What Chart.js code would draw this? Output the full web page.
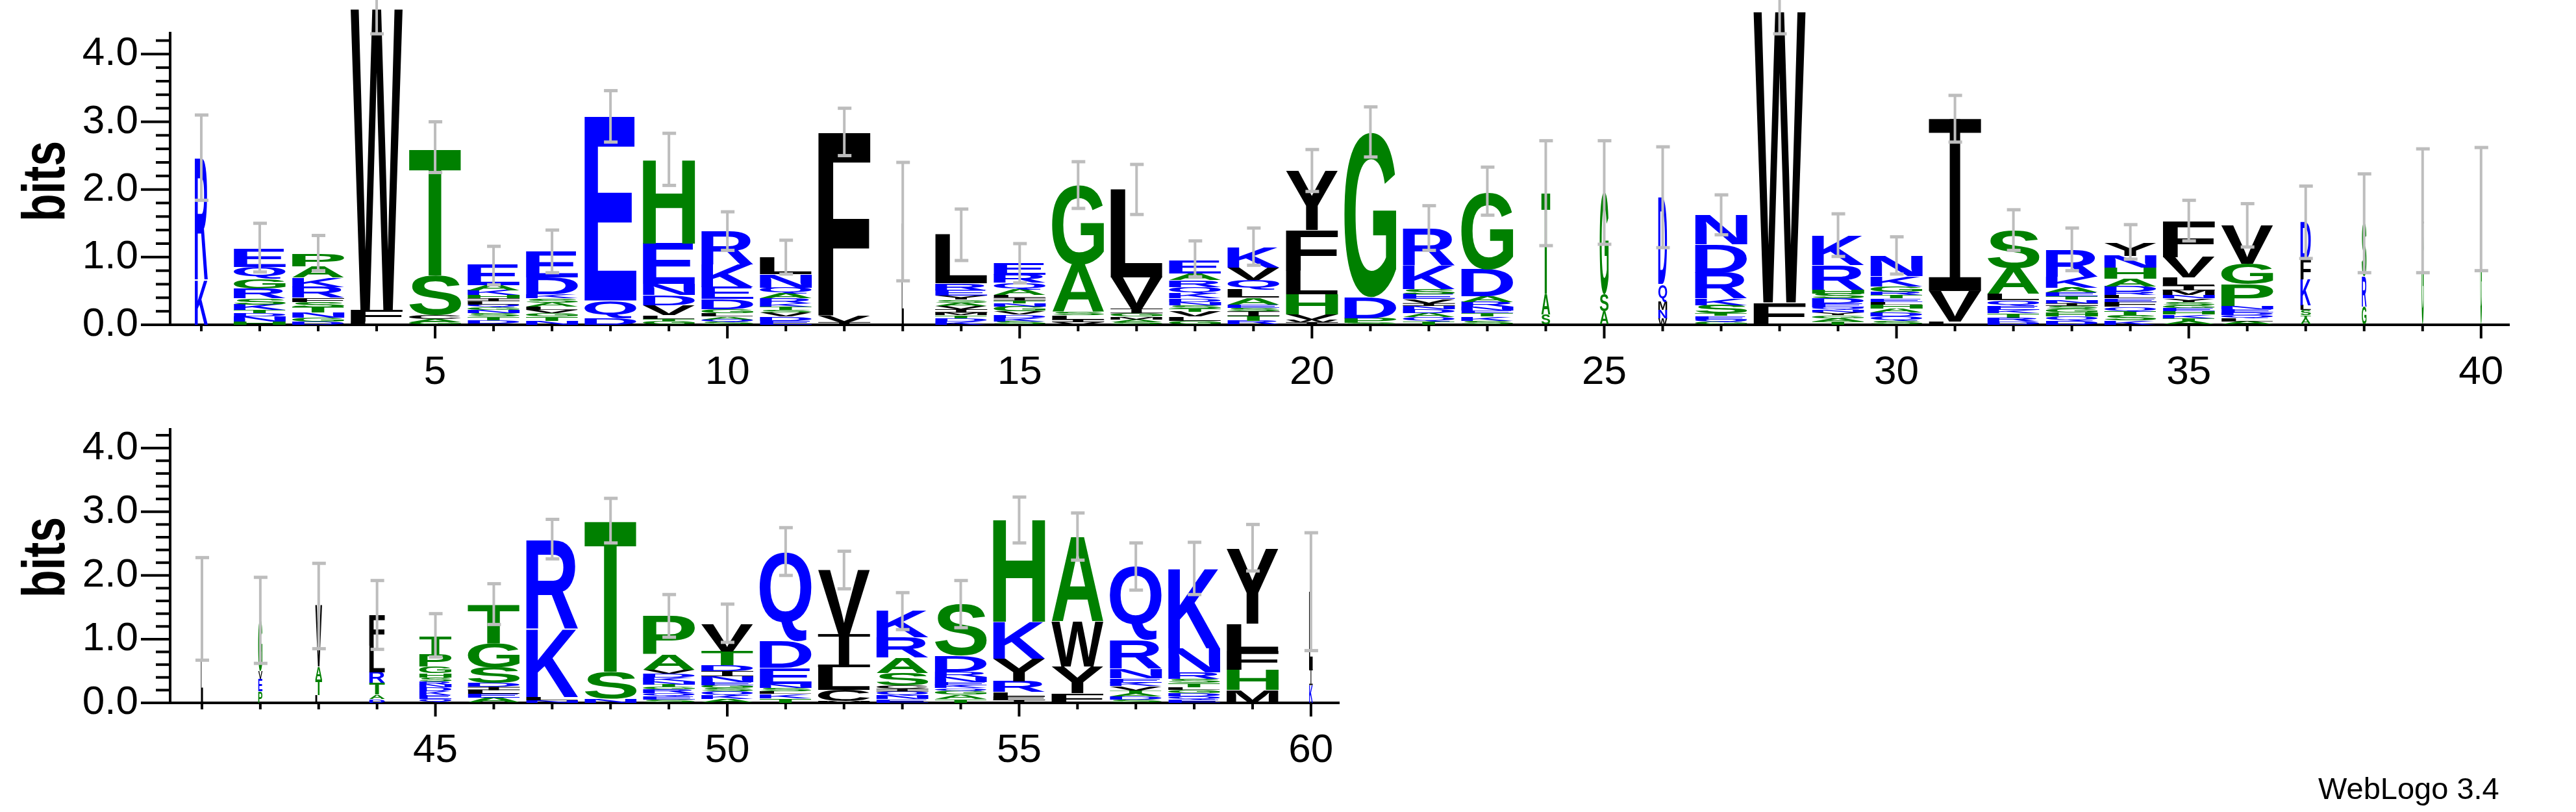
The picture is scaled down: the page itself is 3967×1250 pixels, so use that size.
<!DOCTYPE html>
<html><head><meta charset="utf-8">
<script src="https://cdn.jsdelivr.net/npm/chart.js@4.4.1/dist/chart.umd.min.js"></script>
<style>
html,body{margin:0;padding:0;background:#fff;width:3967px;height:1250px;overflow:hidden;}
#c1{position:absolute;left:0;top:0;width:3967px;height:620px;}
#c2{position:absolute;left:0;top:620px;width:3967px;height:630px;}
#wl{position:absolute;left:3570px;top:1190px;font:47px 'Liberation Sans',Arial,sans-serif;line-height:1;color:#000;}
</style></head><body>
<div id="c1"><canvas id="top"></canvas></div>
<div id="c2"><canvas id="bot"></canvas></div>
<div id="wl">WebLogo 3.4</div>
<script>
// ---- data: positions, stacked letters (bottom -> top), bits, error bars, column width fraction
const posTop = [1,2,3,4,5,6,7,8,9,10,11,12,13,14,15,16,17,18,19,20,21,22,23,24,25,26,27,28,29,30,31,32,33,34,35,36,37,38,39,40];
const lettersTop = ["KR","HNDTKSRGQE","DGNTSFRKAP","LFW","GACST","VDTSNGQLIHKAE","NTGVLASKDE","DQE","GTLVDNEH","SQALGDEKR",
 "EDVSTKRAQNL","IVF","L","KDTMIVASYERL","SKDVGNTILAQRE","VILSAG","SAMGIVL","GLVTSNDKQRAE","RTISEALQVK","IWVHLFY",
 "SPDG","TQADNIVESKR","SKTENRADG","SAT","ASG","WNMQD","GQETSKRDN","FW","TAGYNQEDSHRK","SQDAHLETRGKN",
 "LVI","DRTKEQLAS","DQHGSINTEAKR","KSTQFELRDAHNY","ATKHEGSYNMILVF","ALQDENPGV","ATSLKFD","GRS","GL","G"];
const bitsTop = [
 [.66,1.80],[.05,.07,.05,.05,.08,.09,.15,.14,.17,.27],[.05,.06,.07,.08,.08,.06,.16,.14,.16,.19],[.05,.17,4.45],[.04,.05,.06,.58,1.87],
 [.02,.05,.05,.05,.05,.04,.04,.05,.04,.05,.07,.08,.3],[.06,.06,.05,.05,.05,.06,.06,.06,.25,.375],[.1,.26,2.72],[.05,.04,.05,.15,.15,.16,.6,1.24],[.04,.04,.04,.05,.06,.15,.18,.33,.5],
 [.06,.06,.06,.04,.05,.05,.07,.07,.09,.2,.24],[.04,.1,2.72],[1.5],[.05,.05,.04,.04,.05,.05,.05,.04,.06,.08,.1,.72],[.05,.05,.05,.05,.07,.05,.04,.04,.04,.08,.1,.12,.17],
 [.04,.04,.06,.05,.7,1.17],[.04,.04,.04,.05,.07,.46,1.3],[.06,.06,.07,.05,.05,.05,.05,.07,.1,.1,.1,.2],[.06,.07,.07,.05,.05,.1,.12,.14,.18,.3],[.04,.04,.07,.3,.35,.6,.87],
 [.03,.07,.31,2.43],[.05,.06,.06,.06,.05,.04,.06,.07,.08,.35,.55],[.06,.06,.05,.04,.06,.07,.08,.4,1.14],[.15,.3,1.5],[.2,.25,1.51],
 [.1,.12,.12,.26,1.28],[.04,.04,.05,.04,.12,.1,.38,.42,.43],[.33,4.3],[.05,.05,.04,.04,.04,.04,.06,.07,.07,.06,.36,.43],[.06,.06,.06,.06,.06,.04,.05,.05,.05,.08,.15,.3],
 [.05,.45,2.54],[.05,.06,.06,.05,.06,.08,.1,.38,.55],[.06,.06,.06,.06,.04,.04,.05,.05,.06,.07,.16,.4],[.07,.07,.06,.07,.07,.05,.05,.05,.08,.11,.16,.18,.2],
 [.05,.05,.05,.05,.05,.04,.05,.05,.05,.07,.07,.12,.3,.53],[.05,.05,.04,.04,.05,.05,.32,.3,.57],[.09,.05,.08,.07,.38,.3,.55],[.27,.45,.78],[1.5,.17],[1.69]];
const errHiTop = [3.1,1.5,1.32,5.0,3.0,1.16,1.4,3.46,2.83,1.67,1.25,3.2,2.4,1.71,1.2,2.41,2.37,1.24,1.43,2.59,
 3.22,1.76,2.33,2.72,2.72,2.63,1.92,5.0,1.64,1.3,3.39,1.7,1.43,1.48,1.84,1.79,2.05,2.23,2.6,2.62];
const errLoTop = [1.84,.78,.80,4.3,2.25,.59,.77,2.70,2.06,1.1,.75,2.5,.65,.95,.62,1.72,1.63,.71,.88,1.97,
 2.48,1.1,1.62,1.17,1.19,1.14,1.33,4.3,1.01,.75,2.7,1.1,.8,.97,1.24,1.15,.98,.77,.77,.8];
const widthTop = [.25,1,1,1,1,1,1,1,1,1,1,1,.04,1,1,1,1,1,1,1,1,1,1,.17,.17,.17,1,1,1,1,1,1,1,1,1,1,.2,.09,.04,.03];

const posBot = [41,42,43,44,45,46,47,48,49,50,51,52,53,54,55,56,57,58,59,60];
const lettersBot = ["L","PEVG","LTAV","DATRLF","QEKDNRSHGPT","AELIDSGT","NLKR","NST","SEQRGTNKDVAP","AKQSGENIDTV",
 "TKLSNEDQ","MCLIV","ENQICSARK","TAGQKENRDS","IFLRYKH","FYWA","SDATVKENRQ","EQDGLTSRNK","MHFLY","KIL"];
const bitsBot = [[1.49],[.18,.2,.12,.8],[.12,.25,.2,.96],[.06,.07,.18,.17,.42,.48],[.06,.06,.06,.06,.05,.05,.06,.07,.1,.19,.27],
 [.08,.06,.06,.05,.06,.25,.38,.6],[.04,.05,1.07,1.4],[.07,.42,2.37],[.05,.05,.05,.06,.04,.04,.05,.06,.06,.06,.24,.6],[.06,.06,.06,.05,.05,.05,.09,.08,.09,.22,.43],
 [.07,.07,.04,.05,.07,.25,.42,1.39],[.03,.17,.36,.52,1.01],[.06,.06,.06,.04,.05,.2,.24,.32,.42],[.06,.07,.06,.04,.05,.05,.08,.08,.25,.8],[.05,.05,.07,.17,.35,.58,1.6],
 [.15,.42,.71,1.33],[.05,.05,.05,.04,.07,.06,.07,.15,.45,1.15],[.05,.05,.05,.05,.04,.07,.07,.1,.38,1.25],[.2,.32,.3,.42,1.18],[.28,.25,1.21]];
const errHiBot = [2.28,1.97,2.19,1.92,1.4,1.87,2.88,3.21,1.7,1.55,2.75,2.38,1.73,1.92,3.23,2.98,2.51,2.52,2.8,2.67];
const errLoBot = [.67,.62,.85,.84,.72,1.23,2.26,2.51,1.03,.95,2.0,1.79,1.15,1.18,2.51,2.24,1.77,1.7,2.07,.82];
const widthBot = [.04,.08,.13,.3,.62,1,1,1,1,1,1,1,1,1,1,1,1,1,1,.07];

const GREEN = '#008000', BLUE = '#0000ff', BLACK = '#000000', ERR = '#bdbdbd';
function colorOf(ch){ if('GSTAHP'.includes(ch)) return GREEN; if('KRDEQN'.includes(ch)) return BLUE; return BLACK; }

function buildData(pos, letters, bits, w){
  const out = [];
  pos.forEach((p,i)=>{ let c=0; for(let k=0;k<letters[i].length;k++){ const h=bits[i][k]; out.push({x:p,y:[c,c+h],ch:letters[i][k],w:w[i]}); c+=h; } });
  return out;
}

const mctx = document.createElement('canvas').getContext('2d');
function drawGlyph(ctx, ch, x0, y0, w, h, color){
  if(h<0.5||w<0.5) return;
  ctx.save(); ctx.fillStyle=color;
  if(ch==='I'){
    const s=Math.max(h*0.08,1); const sw=Math.max(w*0.2,1);
    ctx.fillRect(x0,y0,w,s); ctx.fillRect(x0,y0+h-s,w,s); ctx.fillRect(x0+(w-sw)/2,y0,sw,h);
  } else {
    mctx.font = "bold 200px 'Liberation Sans', Arial, sans-serif";
    const m = mctx.measureText(ch);
    const gl=m.actualBoundingBoxLeft, gw=m.actualBoundingBoxLeft+m.actualBoundingBoxRight;
    const ga=m.actualBoundingBoxAscent, gh=m.actualBoundingBoxAscent+m.actualBoundingBoxDescent;
    ctx.translate(x0,y0); ctx.scale(w/gw,h/gh);
    ctx.font = mctx.font; ctx.textBaseline='alphabetic'; ctx.textAlign='left';
    ctx.fillText(ch, gl, ga);
  }
  ctx.restore();
}

function logoPlugin(errHi, errLo, pos, bitsLabelY){
  return {
    id:'logo',
    afterDatasetsDraw(chart){
      const ctx=chart.ctx, xs=chart.scales.x, ys=chart.scales.y;
      const meta=chart.getDatasetMeta(0), ds=chart.data.datasets[0].data;
      const full = Math.abs(xs.getPixelForValue(1.445)-xs.getPixelForValue(0.555));
      meta.data.forEach((el,i)=>{
        const d=ds[i]; const w=full*d.w;
        const yt=Math.min(el.y,el.base), yb=Math.max(el.y,el.base);
        drawGlyph(ctx,d.ch,el.x-w/2,yt,w,yb-yt,colorOf(d.ch));
      });
      ctx.save(); ctx.strokeStyle=ERR; ctx.fillStyle=ERR; ctx.lineWidth=4;
      pos.forEach((p,i)=>{
        const px=xs.getPixelForValue(p), y1=ys.getPixelForValue(errHi[i]), y2=ys.getPixelForValue(errLo[i]);
        ctx.beginPath(); ctx.moveTo(px,y1); ctx.lineTo(px,y2); ctx.stroke();
        ctx.fillRect(px-10,y1-2.5,21,5); ctx.fillRect(px-10,y2-2.5,21,5);
      });
      ctx.restore();
      ctx.save(); ctx.strokeStyle='#000'; ctx.lineWidth=4;
      const L=chart.chartArea.left, B=chart.chartArea.bottom;
      for(let k=0;k*0.2<=ys.max+1e-9;k++){ const py=ys.getPixelForValue(k*0.2); const len=(k%5===0)?45:22;
        ctx.beginPath(); ctx.moveTo(L-len,py); ctx.lineTo(L,py); ctx.stroke(); }
      for(let p=Math.ceil(xs.min); p<=xs.max; p++){ const px=xs.getPixelForValue(p); const len=(p%5===0)?21:10;
        ctx.beginPath(); ctx.moveTo(px,B); ctx.lineTo(px,B+len); ctx.stroke(); }
      ctx.restore();
      ctx.save(); ctx.translate(70,bitsLabelY); ctx.rotate(-Math.PI/2);
      ctx.font="bold 92px 'Liberation Sans', Arial, sans-serif"; ctx.fillStyle='#000';
      const tw=ctx.measureText('bits').width; ctx.scale(124/tw,1);
      ctx.textAlign='center'; ctx.textBaseline='middle'; ctx.fillText('bits',0,4);
      ctx.restore();
    }
  };
}

function makeChart(id, pos, letters, bits, w, errHi, errLo, xmin, xmax, ymax, padTop, padRight, xh, bitsY){
  new Chart(document.getElementById(id), {
    type:'bar',
    data:{datasets:[{data:buildData(pos,letters,bits,w), backgroundColor:'rgba(0,0,0,0)', borderWidth:0, barPercentage:0.89, categoryPercentage:1}]},
    options:{
      responsive:true, maintainAspectRatio:false, animation:false, devicePixelRatio:1,
      layout:{padding:{top:padTop,right:padRight,left:0,bottom:0}},
      plugins:{legend:{display:false},tooltip:{enabled:false}},
      scales:{
        x:{type:'linear',min:xmin,max:xmax,offset:false,
           afterFit:s=>{s.height=xh;},
           grid:{display:true,drawOnChartArea:false,drawTicks:true,tickLength:21,tickColor:'rgba(0,0,0,0)'},
           border:{display:true,color:'#000',width:4},
           ticks:{stepSize:1,includeBounds:false,autoSkip:false,maxRotation:0,padding:16,color:'#000',font:{family:"'Liberation Sans', Arial",size:62},
             callback:v=>(Math.abs(v-Math.round(v))<1e-6 && Math.round(v)%5===0)?String(Math.round(v)):''}},
        y:{type:'linear',min:0,max:ymax,
           afterFit:s=>{s.width=262;},
           grid:{display:true,drawOnChartArea:false,drawTicks:true,tickLength:45,tickColor:'rgba(0,0,0,0)'},
           border:{display:true,color:'#000',width:4},
           ticks:{stepSize:0.2,includeBounds:false,autoSkip:false,padding:4,color:'#000',font:{family:"'Liberation Sans', Arial",size:62},
             callback:v=>(Math.abs(v-Math.round(v))<1e-6)?Math.round(v).toFixed(1):''}}
      }
    },
    plugins:[logoPlugin(errHi,errLo,pos,bitsY)]
  });
}

makeChart('top', posTop, lettersTop, bitsTop, widthTop, errHiTop, errLoTop, 0.467, 40.48, 4.31, 51, 103, 120, 279);
makeChart('bot', posBot, lettersBot, bitsBot, widthBot, errHiBot, errLoBot, 40.455, 60.48, 4.29, 14, 1905, 168, 238);
</script></body></html>
